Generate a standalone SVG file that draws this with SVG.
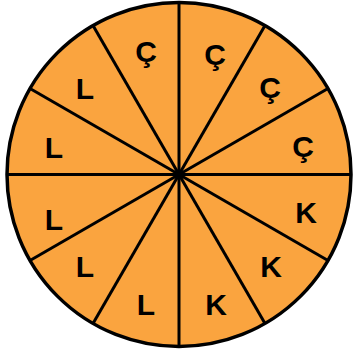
<svg xmlns="http://www.w3.org/2000/svg" width="353" height="358" viewBox="0 0 353 358">
<style>
.lbl{font-family:"Liberation Sans",Arial,sans-serif;font-weight:bold;font-size:30px;fill:#000;text-anchor:middle}
.ln{stroke:#000;stroke-width:3;fill:none}
</style>
<rect width="353" height="358" fill="#fff"/>
<circle id="disc" cx="179" cy="174.5" r="172" fill="#FAA43F" stroke="#000" stroke-width="3.5"/>
<g id="connectors" class="ln">
<line x1="179" y1="2.5" x2="179" y2="346.5"/>
<line x1="7" y1="174.5" x2="351" y2="174.5"/>
<line x1="265" y1="25.5" x2="93" y2="323.5"/>
<line x1="93" y1="25.5" x2="265" y2="323.5"/>
<line x1="328" y1="88.5" x2="30" y2="260.5"/>
<line x1="30" y1="88.5" x2="328" y2="260.5"/>
</g>
<circle cx="179" cy="174.5" r="3" fill="#000"/>
<g id="s1"><text class="lbl" x="146" y="62">Ç</text></g>
<g id="s2"><text class="lbl" x="215" y="65">Ç</text></g>
<g id="s3"><text class="lbl" x="270" y="98">Ç</text></g>
<g id="s4"><text class="lbl" x="303" y="157">Ç</text></g>
<g id="s5"><text class="lbl" x="306" y="223">K</text></g>
<g id="s6"><text class="lbl" x="271" y="277">K</text></g>
<g id="s7"><text class="lbl" x="216" y="315">K</text></g>
<g id="s8"><text class="lbl" x="146" y="315">L</text></g>
<g id="s9"><text class="lbl" x="85" y="277">L</text></g>
<g id="s10"><text class="lbl" x="54" y="230">L</text></g>
<g id="s11"><text class="lbl" x="54" y="158">L</text></g>
<g id="s12"><text class="lbl" x="85" y="99">L</text></g>
</svg>
